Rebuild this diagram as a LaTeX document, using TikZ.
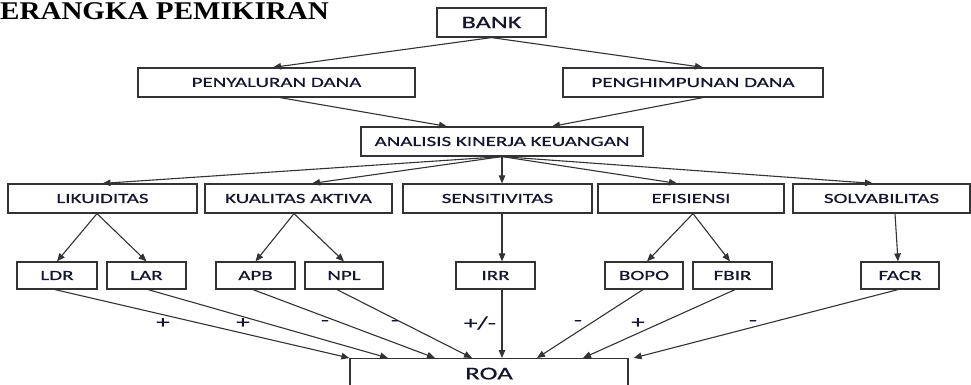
\documentclass[tikz,border=0pt]{standalone}
\usepackage{fontspec}
\usetikzlibrary{arrows.meta}
\newfontfamily\boxf[FakeStretch=1.5,FakeBold=0.6]{Carlito}
\newfontfamily\titlef[FakeStretch=1.14]{Liberation Serif}
\definecolor{ln}{HTML}{333333}
\definecolor{tx}{HTML}{151530}
\begin{document}
\begin{tikzpicture}[x=1pt,y=-1pt,
  box/.style={draw=ln, line width=1.2pt, inner sep=0pt, fill=white, text=tx,
              font=\boxf\fontsize{14}{16}\selectfont},
  arr/.style={draw=ln, line width=1.1pt, -{Triangle[length=8pt,width=6.5pt]}},
  sign/.style={text=tx, inner sep=0pt, font=\boxf\fontsize{18}{20}\selectfont}]
\useasboundingbox (0,0) rectangle (971,385);
\clip (0,0) rectangle (971,385);
% title
\node[anchor=base east, inner sep=0pt, font=\titlef\bfseries\fontsize{25.5}{28}\selectfont] (title) at (329,20) {ERANGKA PEMIKIRAN};
% level 1
\node[box, minimum width=109pt, minimum height=29pt, font=\boxf\fontsize{17.5}{20}\selectfont] (bank) at (491.5,22.5) {BANK};
% level 2
\node[box, minimum width=277pt, minimum height=29pt] (pen) at (276.5,82.5) {PENYALURAN DANA};
\node[box, minimum width=260pt, minimum height=29pt] (peng) at (693,82.5) {PENGHIMPUNAN DANA};
% level 3
\node[box, minimum width=282pt, minimum height=29pt] (ana) at (502,141.5) {ANALISIS KINERJA KEUANGAN};
% level 4
\node[box, minimum width=189pt, minimum height=29pt] (lik) at (102.5,198.5) {LIKUIDITAS};
\node[box, minimum width=187pt, minimum height=29pt] (kua) at (298.5,198.5) {KUALITAS AKTIVA};
\node[box, minimum width=189pt, minimum height=29pt] (sen) at (497.5,198.5) {SENSITIVITAS};
\node[box, minimum width=186pt, minimum height=29pt] (efi) at (691,198.5) {EFISIENSI};
\node[box, minimum width=177pt, minimum height=29pt] (sol) at (881.5,198.5) {SOLVABILITAS};
% level 5
\node[box, minimum width=80pt, minimum height=27pt] (ldr) at (57,275.5) {LDR};
\node[box, minimum width=79pt, minimum height=27pt] (lar) at (146.5,275.5) {LAR};
\node[box, minimum width=79pt, minimum height=27pt] (apb) at (255.5,275.5) {APB};
\node[box, minimum width=78pt, minimum height=27pt] (npl) at (344,275.5) {NPL};
\node[box, minimum width=79pt, minimum height=27pt] (irr) at (495.5,275.5) {IRR};
\node[box, minimum width=78pt, minimum height=27pt] (bopo) at (644,275.5) {BOPO};
\node[box, minimum width=79pt, minimum height=27pt] (fbir) at (732.5,275.5) {FBIR};
\node[box, minimum width=78pt, minimum height=27pt] (facr) at (900,275.5) {FACR};
% ROA
\node[box, minimum width=278pt, minimum height=30pt, anchor=north, font=\boxf\fontsize{18}{20}\selectfont] (roa) at (489,358) {ROA};
% arrows top
\draw[arr] (bank.south) -- ([xshift=-3.5pt]pen.north);
\draw[arr] (bank.south) -- ([xshift=10pt]peng.north);
\draw[arr] ([xshift=3.5pt]pen.south) -- ([xshift=-55pt]ana.north);
\draw[arr] ([xshift=10pt]peng.south) -- ([xshift=50pt]ana.north);
\draw[arr] (ana.south) -- (lik.north);
\draw[arr] (ana.south) -- ([xshift=13.5pt]kua.north);
\draw[arr] (ana.south) -- ([xshift=4.5pt]sen.north);
\draw[arr] (ana.south) -- ([xshift=-14pt]efi.north);
\draw[arr] (ana.south) -- ([xshift=-8.5pt]sol.north);
% arrows middle
\draw[arr] ([xshift=-5.5pt]lik.south) -- (ldr.north);
\draw[arr] ([xshift=-5.5pt]lik.south) -- (lar.north);
\draw[arr] ([xshift=-4.5pt]kua.south) -- (apb.north);
\draw[arr] ([xshift=-4.5pt]kua.south) -- (npl.north);
\draw[arr] ([xshift=4.5pt]sen.south) -- ([xshift=6.5pt]irr.north);
\draw[arr] ([xshift=2pt]efi.south) -- ([xshift=3pt]bopo.north);
\draw[arr] ([xshift=2pt]efi.south) -- ([xshift=-2.5pt]fbir.north);
\draw[arr] ([xshift=13.5pt]sol.south) -- ([xshift=-2pt]facr.north);
% arrows to ROA
\draw[arr] ([xshift=-2pt]ldr.south) -- (roa.north west);
\draw[arr] ([xshift=1.5pt]lar.south) -- ([xshift=-101pt]roa.north);
\draw[arr] ([xshift=-2.5pt]apb.south) -- ([xshift=-54pt]roa.north);
\draw[arr] ([xshift=-7pt]npl.south) -- ([xshift=-17pt]roa.north);
\draw[arr] ([xshift=6.5pt]irr.south) -- ([xshift=13pt]roa.north);
\draw[arr] ([xshift=-1pt]bopo.south) -- ([xshift=48pt]roa.north);
\draw[arr] ([xshift=2.5pt]fbir.south) -- ([xshift=94pt]roa.north);
\draw[arr] ([xshift=-2pt]facr.south) -- ([xshift=5pt]roa.north east);
% signs
\node[sign] (s1) at (163,323) {+};
\node[sign] (s2) at (243,323) {+};
\node[sign] (s3) at (325,323) {-};
\node[sign] (s4) at (395,323) {-};
\node[sign] (s5) at (480,323) {+/-};
\node[sign] (s6) at (578,323) {-};
\node[sign] (s7) at (638,323) {+};
\node[sign] (s8) at (753,323) {-};
\end{tikzpicture}
\end{document}
